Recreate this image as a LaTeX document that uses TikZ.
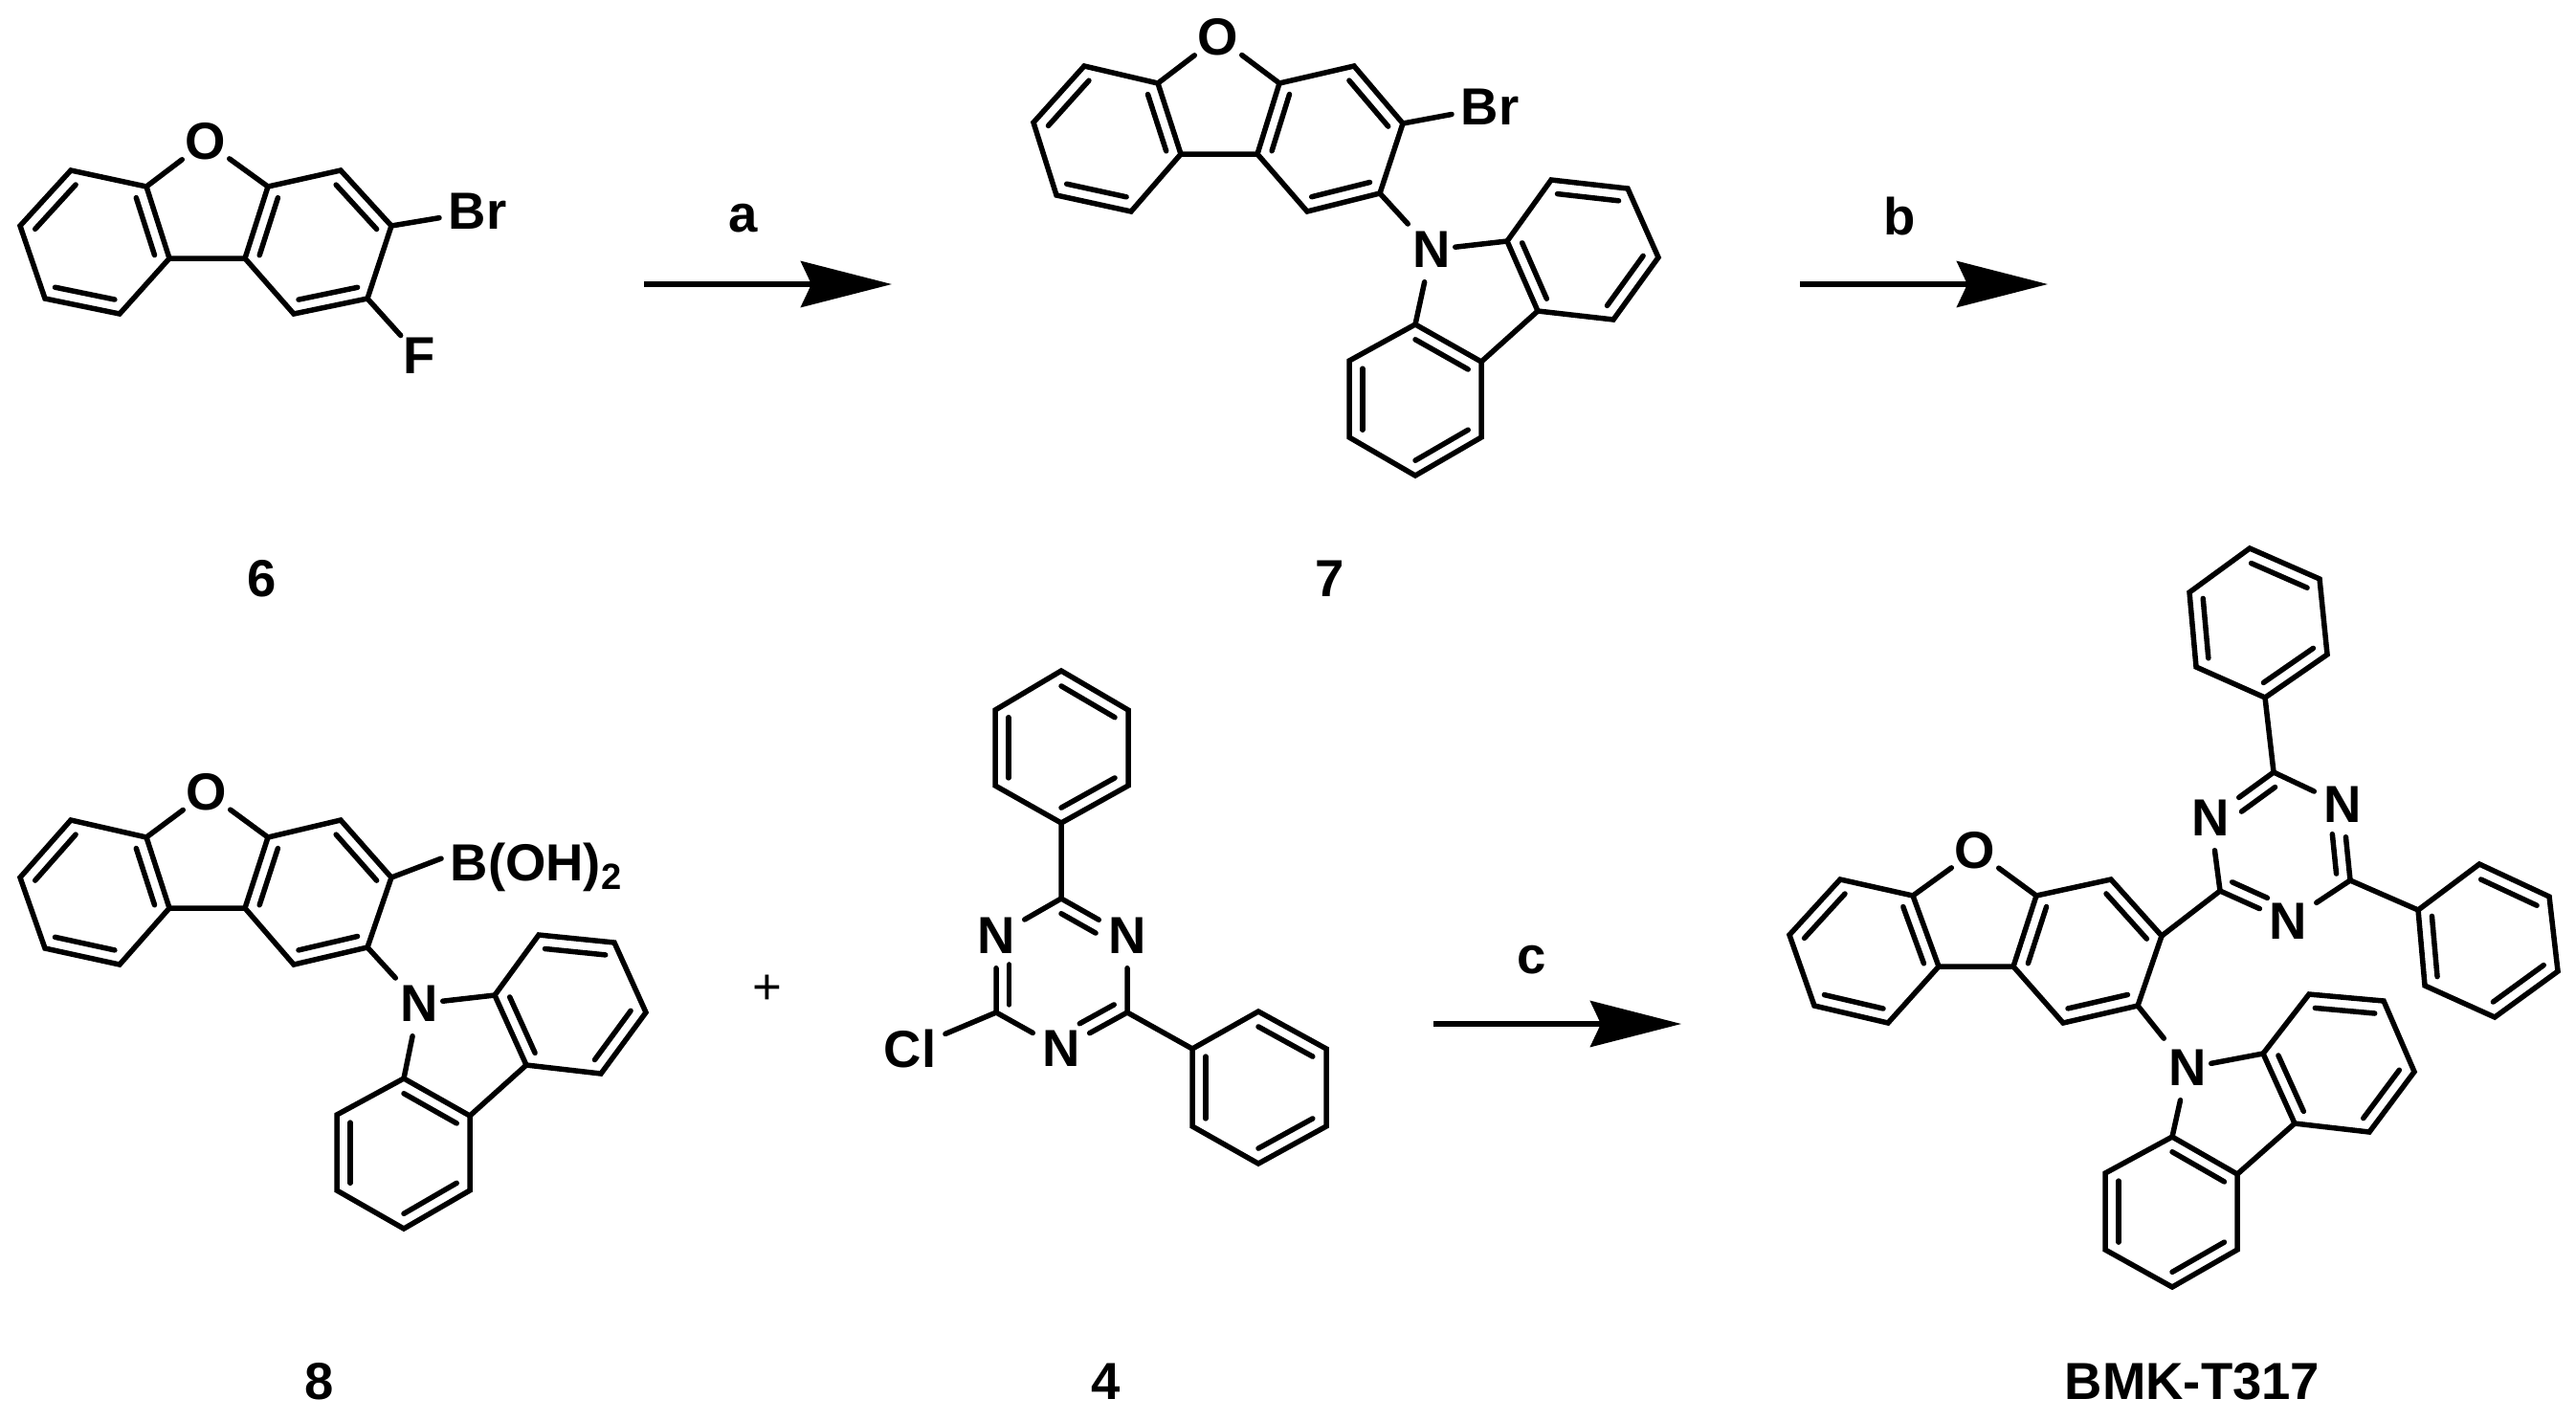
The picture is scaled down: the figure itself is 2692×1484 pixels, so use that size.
\documentclass[tikz,border=0pt]{standalone}
\usepackage{fontspec}
\setmainfont{Liberation Sans}
\usepackage{tikz}
\usetikzlibrary{calc,arrows.meta}
\tikzset{
    bond/.style={line width=.055cm, line cap=round, line join=miter},
    atom/.style={rectangle, inner sep=0pt, minimum width=.48cm, minimum height=.66cm},
    trzatom/.style={atom, minimum width=.58cm},
    group/.style={inner xsep=.09cm, inner ysep=.02cm},
    rxn/.style={line width=.055cm, -{Stealth[length=.95cm, width=.48cm, inset=.11cm]}}
}
\newcommand{\inbond}[4][]{\draw[bond,#1] ($(#2)!.2!(#4)$) -- ($(#3)!.2!(#4)$);}
\newcommand{\benzring}[7]{
    \coordinate (#11) at (#2); \coordinate (#12) at (#3); \coordinate (#13) at (#4);
    \coordinate (#14) at (#5); \coordinate (#15) at (#6); \coordinate (#16) at (#7);
    \coordinate (#1z) at ($(#11)!.5!(#14)$);
    \draw[bond] (#11) -- (#12) -- (#13) -- (#14) -- (#15) -- (#16) -- cycle;
    \inbond{#11}{#12}{#1z} \inbond{#13}{#14}{#1z} \inbond{#15}{#16}{#1z}
}
\newcommand{\triazine}[7]{
    \coordinate (#1C1) at (#2); \coordinate (#1C2) at (#4); \coordinate (#1C3) at (#6);
    \node[trzatom] (#1N1) at (#3) {N};
    \node[trzatom] (#1N2) at (#5) {N};
    \node[trzatom] (#1N3) at (#7) {N};
    \coordinate (#1z) at ($(#1C1)!.5!(#1N2)$);
    \draw[bond] (#1C1) -- (#1N1) (#1N1) -- (#1C2) -- (#1N2) (#1N2) -- (#1C3) -- (#1N3) (#1N3) -- (#1C1);
    \inbond[shorten >=.22cm]{#1C1}{#1N1}{#1z}
    \inbond[shorten >=.22cm]{#1C2}{#1N2}{#1z}
    \inbond[shorten >=.22cm]{#1C3}{#1N3}{#1z}
}
\newcommand{\furanlink}[1]{\draw[bond] (#1A5) -- (#1B2) (#1A6) -- (#1O) (#1O) -- (#1B1);}
\newcommand{\carblink}[1]{\draw[bond] (#1B4) -- (#1N) (#1N) -- (#1D6) (#1N) -- (#1E1) (#1D5) -- (#1E2);}
\begin{document}
\begin{tikzpicture}[x=.01cm, y=-.01cm, every node/.style={font=\fontsize{15.5pt}{18pt}\bfseries\selectfont}]
    \useasboundingbox (0,0) rectangle (2692,1484);

    \benzring{6A}{74,178}{21,236}{47,312}{125,328}{177,270}{153,195}
    \benzring{6B}{280,195}{256,270}{307,328}{384,312}{409,236}{356,178}
    \node[atom] (6O) at (215,148) {O};
    \furanlink{6}
    \node[group] (6Br) at (499,221) {Br};
    \node[group] (6F) at (438,372) {F};
    \draw[bond] (6B5) -- (6Br) (6B4) -- (6F);
    \node (lab6) at (274,605) {6};

    \coordinate (arrAs) at (673,297);
    \coordinate (arrAe) at (932,297);
    \draw[rxn] (arrAs) -- (arrAe);
    \node (laba) at (777,228) {a};

    \benzring{7A}{1133,69}{1080,128}{1104,204}{1182,221}{1234,161}{1210,87}
    \benzring{7B}{1337,87}{1314,161}{1366,221}{1442,202}{1466,129}{1415,69}
    \benzring{7D}{1621,188}{1701,197}{1733,269}{1686,334}{1607,325}{1575,252}
    \benzring{7E}{1479,339}{1548,378}{1548,457}{1479,497}{1410,457}{1410,377}
    \node[atom] (7O) at (1273,39) {O};
    \node[atom] (7N) at (1496,261) {N};
    \furanlink{7}
    \carblink{7}
    \node[group] (7Br) at (1557,112) {Br};
    \draw[bond] (7B5) -- (7Br);
    \node (lab7) at (1390,605) {7};

    \coordinate (arrBs) at (1881,297);
    \coordinate (arrBe) at (2140,297);
    \draw[rxn] (arrBs) -- (arrBe);
    \node (labb) at (1985,226) {b};

    \benzring{8A}{74,857}{21,917}{47,991}{125,1008}{177,949}{153,875}
    \benzring{8B}{280,875}{256,949}{307,1008}{384,990}{409,917}{356,857}
    \benzring{8D}{563,977}{642,985}{675,1058}{628,1122}{550,1113}{517,1040}
    \benzring{8E}{422,1127}{491,1166}{491,1244}{422,1284}{352,1244}{352,1165}
    \node[atom] (8O) at (216,828) {O};
    \node[atom] (8N) at (438,1049) {N};
    \furanlink{8}
    \carblink{8}
    \node[group, anchor=base west] (8Bo) at (461,920) {B(OH)\textsubscript{2}};
    \draw[bond] (8B5) -- (8Bo.175);
    \node (lab8) at (334,1444) {8};

    \node[font=\fontsize{15pt}{18pt}\selectfont] (plus) at (802,1034) {+};

    \benzring{4P}{1109,701}{1179,742}{1179,821}{1109,860}{1040,821}{1040,742}
    \benzring{4Q}{1315,1057}{1386,1096}{1386,1177}{1315,1216}{1246,1177}{1246,1096}
    \triazine{4}{1109,939}{1178,978}{1178,1058}{1109,1096}{1041,1058}{1041,978}
    \node[group] (4Cl) at (951,1096) {Cl};
    \draw[bond] (4P4) -- (4C1) (4C2) -- (4Q6) (4C3) -- (4Cl);
    \node (lab4) at (1156,1444) {4};

    \coordinate (arrCs) at (1498,1070);
    \coordinate (arrCe) at (1757,1070);
    \draw[rxn] (arrCs) -- (arrCe);
    \node (labc) at (1601,1003) {c};

    \benzring{TA}{1923,919}{1870,977}{1896,1051}{1973,1069}{2026,1010}{1999,936}
    \benzring{TB}{2128,936}{2104,1010}{2156,1069}{2234,1051}{2259,978}{2206,919}
    \benzring{TD}{2413,1039}{2491,1046}{2523,1120}{2476,1183}{2398,1174}{2365,1101}
    \benzring{TE}{2270,1188}{2338,1227}{2338,1306}{2270,1345}{2200,1306}{2200,1226}
    \benzring{TP}{2351,573}{2424,605}{2432,684}{2367,729}{2295,697}{2288,619}
    \benzring{TQ}{2591,903}{2664,937}{2673,1015}{2607,1063}{2534,1030}{2527,951}
    \triazine{T}{2376,807}{2310,855}{2320,931}{2391,963}{2456,920}{2448,841}
    \node[atom] (TO) at (2064,889) {O};
    \node[atom] (TN) at (2286,1116) {N};
    \furanlink{T}
    \carblink{T}
    \draw[bond] (TB5) -- (TC2) (TP4) -- (TC1) (TC3) -- (TQ6);
    \node (labT) at (2291,1444) {BMK-T317};
\end{tikzpicture}
\end{document}
